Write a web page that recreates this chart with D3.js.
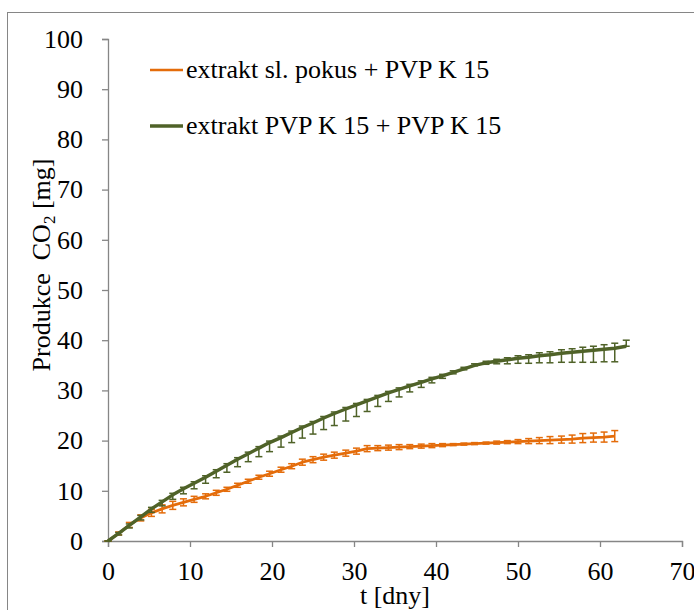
<!DOCTYPE html>
<html>
<head>
<meta charset="utf-8">
<script src="https://cdn.jsdelivr.net/npm/d3@7"></script>
<style>
  html, body { margin: 0; padding: 0; background: #fff; }
  svg { display: block; }
  text { font-family: "Liberation Serif", "Times New Roman", serif; fill: #000; }
</style>
</head>
<body>
<svg id="chart" width="694" height="610"></svg>
<script>
// Sampling times [days]
const days = [0, 1.3, 2.6, 4.0, 5.3, 6.6, 7.9, 9.2, 10.5, 11.9, 13.2, 14.5, 15.8, 17.1, 18.4, 19.7,
  21.1, 22.4, 23.7, 25.0, 26.3, 27.6, 29.0, 30.3, 31.6, 32.9, 34.2, 35.5, 36.8, 38.2, 39.5, 40.8,
  42.1, 43.4, 44.7, 46.1, 47.4, 48.7, 50.0, 51.3, 52.6, 53.9, 55.3, 56.6, 57.9, 59.2, 60.5, 61.8, 63.2];

// CO2 production [mg] – extract of the trial + PVP K 15
const orangeValues = [0, 1.5, 3.2, 4.6, 5.6, 6.4, 7.1, 7.7, 8.3, 8.9, 9.6, 10.3, 11.1, 11.9, 12.7, 13.4,
  14.2, 14.9, 15.7, 16.2, 16.7, 17.1, 17.5, 17.9, 18.4, 18.5, 18.6, 18.7, 18.8, 18.9, 19.0, 19.1,
  19.2, 19.3, 19.4, 19.5, 19.6, 19.7, 19.8, 19.9, 20.0, 20.1, 20.2, 20.3, 20.5, 20.6, 20.7, 20.9];
const orangeError = [0, 0.3, 0.5, 0.6, 0.7, 0.8, 0.8, 0.7, 0.6, 0.5, 0.5, 0.4, 0.4, 0.4, 0.4, 0.5,
  0.5, 0.5, 0.6, 0.6, 0.6, 0.6, 0.6, 0.6, 0.6, 0.5, 0.5, 0.5, 0.4, 0.4, 0.4, 0.3,
  0.2, 0.2, 0.2, 0.2, 0.3, 0.3, 0.4, 0.5, 0.6, 0.7, 0.7, 0.8, 0.9, 0.9, 1.0, 1.1];

// CO2 production [mg] – extract PVP K 15 + PVP K 15
const greenValues = [0, 1.5, 3.1, 4.8, 6.4, 7.8, 9.2, 10.4, 11.5, 12.7, 13.9, 15.1, 16.3, 17.4, 18.5, 19.6,
  20.6, 21.6, 22.6, 23.5, 24.5, 25.4, 26.3, 27.1, 27.9, 28.7, 29.5, 30.2, 30.9, 31.6, 32.3, 32.9,
  33.6, 34.3, 35.0, 35.5, 35.8, 36.1, 36.4, 36.6, 36.9, 37.1, 37.4, 37.6, 37.8, 38.0, 38.2, 38.4, 38.8];
const greenErrorMinus = [0, 0.3, 0.5, 0.6, 0.7, 0.8, 0.9, 1.0, 1.1, 1.2, 1.3, 1.4, 1.5, 1.6, 1.7, 1.8,
  1.9, 2.0, 2.1, 2.2, 2.3, 2.4, 2.4, 2.3, 2.1, 1.9, 1.7, 1.5, 1.2, 1.0, 0.8, 0.5,
  0.3, 0.2, 0.1, 0.3, 0.5, 0.8, 1.0, 1.2, 1.4, 1.6, 1.8, 2.0, 2.2, 2.4, 2.5, 2.7, 0];
const greenErrorPlus = [0, 0.2, 0.3, 0.3, 0.3, 0.3, 0.3, 0.3, 0.3, 0.3, 0.3, 0.3, 0.3, 0.3, 0.3, 0.3,
  0.3, 0.3, 0.3, 0.3, 0.3, 0.3, 0.3, 0.3, 0.3, 0.3, 0.3, 0.3, 0.3, 0.3, 0.3, 0.3,
  0.3, 0.3, 0.3, 0.3, 0.4, 0.4, 0.5, 0.5, 0.6, 0.6, 0.7, 0.7, 0.8, 0.8, 0.9, 1.0, 1.2];

const seriesNames = ["extrakt sl. pokus + PVP K 15", "extrakt PVP K 15 + PVP K 15"];
const xTicks = [0, 10, 20, 30, 40, 50, 60, 70];
const yTicks = [0, 10, 20, 30, 40, 50, 60, 70, 80, 90, 100];

const svg = d3.select("#chart");
const axisColor = "#868686";
const orange = "#e46c0a";
const green = "#4f6228";
const fontSize = 26;

// outer chart-area frame
svg.append("rect")
  .attr("x", 7.5).attr("y", 12.5)
  .attr("width", 720).attr("height", 640)
  .attr("fill", "#fff").attr("stroke", axisColor).attr("stroke-width", 1);

const x = d3.scaleLinear().domain([0, 70]).range([108, 682]);
const y = d3.scaleLinear().domain([0, 100]).range([541, 39]);

// axes
const xAxis = svg.append("g")
  .attr("transform", `translate(0,${y(0)})`)
  .call(d3.axisBottom(x).tickValues(xTicks).tickSize(6).tickPadding(15).tickFormat(d3.format("d")));
const yAxis = svg.append("g")
  .attr("transform", `translate(${x(0)},0)`)
  .call(d3.axisLeft(y).tickValues(yTicks).tickSize(6).tickPadding(19).tickFormat(d3.format("d")));

[xAxis, yAxis].forEach(g => {
  g.attr("font-family", null).attr("font-size", null);
  g.select(".domain").attr("stroke", axisColor).attr("stroke-width", 1.3);
  g.selectAll(".tick line").attr("stroke", axisColor).attr("stroke-width", 1.3);
  g.selectAll(".tick text")
    .attr("font-size", fontSize).attr("fill", "#000");
});

// axis titles
svg.append("text")
  .attr("x", x(35)).attr("y", 604)
  .attr("text-anchor", "middle")
  .attr("font-size", fontSize)
  .text("t [dny]");

const yTitle = svg.append("text")
  .attr("transform", `translate(50,265) rotate(-90)`)
  .attr("text-anchor", "middle")
  .attr("font-size", fontSize);
yTitle.append("tspan").text("Produkce\u00a0\u00a0CO");
yTitle.append("tspan").attr("font-size", 17).attr("dy", 5).text("2");
yTitle.append("tspan").attr("dy", -5).text("\u00a0[mg]");

// series drawing
function drawSeries(values, errMinus, errPlus, color, width) {
  const pts = values.map((v, i) => ({ t: days[i], v, lo: v - errMinus[i], hi: v + errPlus[i] }));
  const g = svg.append("g");
  const bars = g.append("g").attr("stroke", color).attr("stroke-width", 1.5).attr("fill", "none");
  const cap = 3.5;
  pts.forEach(p => {
    bars.append("line").attr("x1", x(p.t)).attr("x2", x(p.t)).attr("y1", y(p.lo)).attr("y2", y(p.hi));
    bars.append("line").attr("x1", x(p.t) - cap).attr("x2", x(p.t) + cap).attr("y1", y(p.lo)).attr("y2", y(p.lo));
    bars.append("line").attr("x1", x(p.t) - cap).attr("x2", x(p.t) + cap).attr("y1", y(p.hi)).attr("y2", y(p.hi));
  });
  g.append("path")
    .datum(pts)
    .attr("fill", "none")
    .attr("stroke", color)
    .attr("stroke-width", width)
    .attr("stroke-linejoin", "round")
    .attr("d", d3.line().x(d => x(d.t)).y(d => y(d.v)));
}

drawSeries(orangeValues, orangeError, orangeError, orange, 2.7);
drawSeries(greenValues, greenErrorMinus, greenErrorPlus, green, 3.4);

// legend
const legend = svg.append("g");
[[orange, 2.7], [green, 3.4]].forEach(([c, w], i) => {
  const ly = 70 + i * 56;
  legend.append("line")
    .attr("x1", 150).attr("x2", 183).attr("y1", ly).attr("y2", ly)
    .attr("stroke", c).attr("stroke-width", w);
  legend.append("text")
    .attr("x", 186).attr("y", ly).attr("dy", "0.3em")
    .attr("font-size", fontSize)
    .text(seriesNames[i]);
});
</script>
</body>
</html>
